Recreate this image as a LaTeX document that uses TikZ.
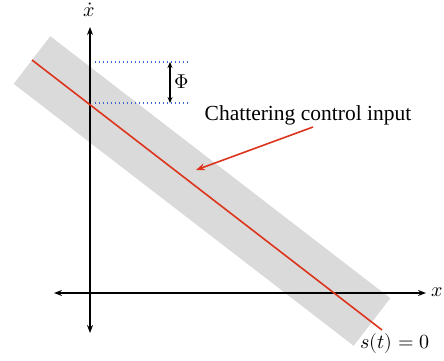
\documentclass[tikz,border=0pt]{standalone}
\usepackage{fontspec}
\usepackage{unicode-math}
\setmainfont{Liberation Serif}
\setmathfont{Latin Modern Math}
\usetikzlibrary{arrows.meta,calc}
\definecolor{bandgray}{RGB}{218,218,218}
\definecolor{linered}{RGB}{221,52,28}
\definecolor{dotblue}{RGB}{60,100,210}
\newcommand{\mlbl}[1]{\fontsize{20}{22}\selectfont$#1$}
\begin{document}
\begin{tikzpicture}[x=1pt,y=-1pt,
  axis/.style={line width=1.3pt,-{Stealth[length=8pt,width=6pt]}},
  dotline/.style={dotblue,line width=1.2pt,dash pattern=on 1.3pt off 2.7pt},
  mathlbl/.style={inner sep=0pt},
  txt/.style={font=\fontsize{21.5}{24}\selectfont,inner sep=0pt}]
\useasboundingbox (0,0) rectangle (444,360);
% band
\fill[bandgray] (50.3,36.2) -- (390.3,298.2) -- (353.7,345.8) -- (13.7,83.8) -- cycle;
% axes
\coordinate (o) at (90,293);
\coordinate (yb) at (90,333);
\coordinate (yt) at (90,27);
\coordinate (xl) at (54,293);
\coordinate (xr) at (426,293);
\draw[axis] (o) -- (yt);
\draw[axis] (o) -- (yb);
\draw[axis] (o) -- (xr);
\draw[axis] (o) -- (xl);
\node[mathlbl,anchor=base] (xdot) at (89,16) {\mlbl{\dot{x}}};
\node[mathlbl,anchor=base] (xlab) at (437,296) {\mlbl{x}};
% red line
\coordinate (rs) at (32,60);
\coordinate (re) at (382,330);
\draw[linered,line width=1.6pt] (rs) -- (re);
\node[mathlbl,anchor=base] (slab) at (395,348) {\mlbl{s(t)=0}};
% dotted lines
\coordinate (d1a) at (95,62);
\coordinate (d1b) at (190,62);
\coordinate (d2a) at (95,103);
\coordinate (d2b) at (190,103);
\draw[dotline] (d1a) -- (d1b);
\draw[dotline] (d2a) -- (d2b);
\coordinate (pt) at (170,62);
\coordinate (pb) at (170,103);
\draw[line width=1.1pt,{Stealth[length=6pt,width=5pt]}-{Stealth[length=6pt,width=5pt]}] (pt) -- (pb);
\node[mathlbl] (phi) at (182,82) {\mlbl{\Phi}};
% label and arrow
\node[txt,anchor=base] (chat) at (308,120) {Chattering control input};
\coordinate (as) at (313,127);
\coordinate (ae) at (196,170);
\draw[linered,line width=1.6pt,-{Stealth[length=9pt,width=7pt]}] (as) -- (ae);
\end{tikzpicture}
\end{document}
